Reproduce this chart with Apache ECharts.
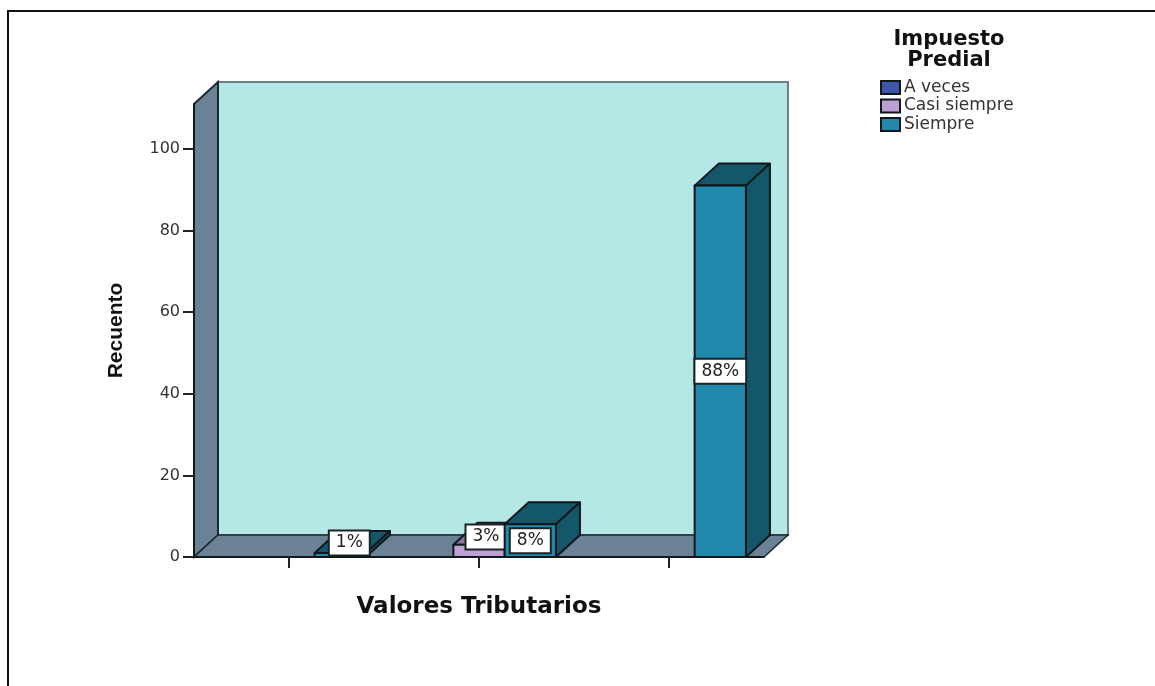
<!DOCTYPE html>
<html>
<head>
<meta charset="utf-8">
<style>
  html, body { margin: 0; padding: 0; background: #fff; }
  #chart { width: 1155px; height: 686px; }
  #frame { position: absolute; left: 7px; top: 10px; right: 0; bottom: 0; border-top: 2px solid #111; border-left: 2px solid #111; pointer-events: none; }
</style>
</head>
<body>
<div id="chart"></div>
<div id="frame"></div>
<script src="https://cdn.jsdelivr.net/npm/echarts@6/dist/echarts.min.js"></script>
<script>
const categories = ['1', '2', '3']
const seriesNames = ['A veces', 'Casi siempre', 'Siempre']
const aVeces = [0, 0, 0]
const casiSiempre = [0, 3, 0]
const siempre = [1, 8, 91]
const casiLabels = ['', '3%', '']
const siempreLabels = ['1%', '8%', '88%']
const yTicks = [0, 20, 40, 60, 80, 100]
const yMax = 111

const DEPTH_X = 24
const DEPTH_Y = 22
const EDGE = '#10181c'
const FONT = '"DejaVu Sans", sans-serif'

// short bars get their label pushed up out of the box
const labelNudge = { '1%': [9, -12], '3%': [7, -14] }

function box(api, seriesPos, color, top, side) {
  const value = api.value(1)
  if (!value) return null
  const band = api.size([1, 0])[0]
  const w = band * 0.27
  const base = api.coord([api.value(0), 0])
  const head = api.coord([api.value(0), value])
  const x0 = base[0] + (seriesPos - 1.5) * w
  const x1 = x0 + w
  const y0 = base[1]
  const y1 = head[1]
  const line = { stroke: EDGE, lineWidth: 2, lineJoin: 'round' }
  const children = [
    { type: 'polygon', shape: { points: [[x0, y1], [x1, y1], [x1 + DEPTH_X, y1 - DEPTH_Y], [x0 + DEPTH_X, y1 - DEPTH_Y]] }, style: { fill: top, ...line } },
    { type: 'polygon', shape: { points: [[x1, y0], [x1, y1], [x1 + DEPTH_X, y1 - DEPTH_Y], [x1 + DEPTH_X, y0 - DEPTH_Y]] }, style: { fill: side, ...line } },
    { type: 'rect', shape: { x: x0, y: y1, width: w, height: y0 - y1 }, style: { fill: color, ...line } }
  ]
  const text = api.value(2)
  if (text) {
    const nudge = labelNudge[text] || [0, 0]
    children.push({
      type: 'text',
      z2: 10,
      style: {
        text,
        x: (x0 + x1) / 2 + nudge[0],
        y: (y0 + y1) / 2 + nudge[1],
        align: 'center',
        verticalAlign: 'middle',
        font: '17px ' + FONT,
        fill: '#222',
        backgroundColor: '#fff',
        borderColor: '#1a2226',
        borderWidth: 2,
        padding: [3, 6, 3, 6]
      }
    })
  }
  return { type: 'group', children }
}

function barSeries(name, values, labels, seriesPos, color, top, side) {
  return {
    name,
    type: 'custom',
    itemStyle: { color, borderColor: EDGE, borderWidth: 1.5 },
    encode: { x: 0, y: 1 },
    data: values.map((v, i) => [i, v, labels ? labels[i] : '']),
    renderItem: (params, api) => box(api, seriesPos, color, top, side)
  }
}

function walls(params) {
  const { x, y, width: w, height: h } = params.coordSys
  const dx = DEPTH_X
  const dy = DEPTH_Y
  return {
    type: 'group',
    children: [
      { type: 'polygon', shape: { points: [[x + dx, y - dy], [x + w + dx, y - dy], [x + w + dx, y + h - dy], [x + dx, y + h - dy]] }, style: { fill: '#b5e7e7', stroke: '#6e7f86', lineWidth: 2 } },
      { type: 'polygon', shape: { points: [[x, y], [x + dx, y - dy], [x + dx, y + h - dy], [x, y + h]] }, style: { fill: '#6b8296', stroke: '#1c2a30', lineWidth: 2 } },
      { type: 'polygon', shape: { points: [[x, y + h], [x + dx, y + h - dy], [x + w + dx, y + h - dy], [x + w, y + h]] }, style: { fill: '#6b8296', stroke: '#1c2a30', lineWidth: 1.5 } }
    ]
  }
}

const chart = echarts.init(document.getElementById('chart'))
chart.setOption({
  animation: false,
  textStyle: { fontFamily: FONT },
  title: {
    text: 'Impuesto\nPredial',
    left: 944,
    top: 24,
    textAlign: 'center',
    textStyle: { fontFamily: FONT, fontSize: 21, fontWeight: 'bold', color: '#111', lineHeight: 21 }
  },
  legend: {
    orient: 'vertical',
    left: 880,
    top: 79,
    itemWidth: 19,
    itemHeight: 13,
    itemGap: 1.5,
    icon: 'rect',
    padding: 0,
    data: seriesNames,
    textStyle: { fontFamily: FONT, fontSize: 17, lineHeight: 13, color: '#333', padding: [0, 0, 0, -1] }
  },
  grid: { left: 194, top: 104, width: 570, height: 453 },
  xAxis: {
    type: 'category',
    data: categories,
    name: 'Valores Tributarios',
    nameLocation: 'middle',
    nameGap: 39,
    nameTextStyle: { fontFamily: FONT, fontSize: 23, fontWeight: 'bold', color: '#111' },
    axisLine: { lineStyle: { color: EDGE, width: 2 } },
    axisTick: { show: true, alignWithLabel: true, length: 11, lineStyle: { color: '#222', width: 2 } },
    axisLabel: { show: false },
    z: 5
  },
  yAxis: {
    type: 'value',
    min: 0,
    max: yMax,
    name: 'Recuento',
    nameLocation: 'middle',
    nameGap: 67,
    nameTextStyle: { fontFamily: '"Liberation Sans", sans-serif', fontSize: 21, fontWeight: 'bold', color: '#111' },
    splitLine: { show: false },
    axisLine: { show: true, lineStyle: { color: EDGE, width: 2 } },
    axisTick: { show: true, length: 11, customValues: yTicks, lineStyle: { color: '#222', width: 2 } },
    axisLabel: { customValues: yTicks, fontFamily: FONT, fontSize: 16, color: '#333', margin: 14 },
    z: 5
  },
  series: [
    { type: 'custom', silent: true, z: 0, data: [[0, 0]], encode: { x: 0, y: 1 }, renderItem: walls },
    { ...barSeries(seriesNames[0], aVeces, null, 0, '#3f55ab', '#2c3c7c', '#2c3c7c'), z: 1 },
    { ...barSeries(seriesNames[1], casiSiempre, casiLabels, 1, '#bd9fd4', '#8d749f', '#8d749f'), z: 2 },
    { ...barSeries(seriesNames[2], siempre, siempreLabels, 2, '#2288ac', '#14566a', '#14566a'), z: 3 }
  ]
})
</script>
</body>
</html>
